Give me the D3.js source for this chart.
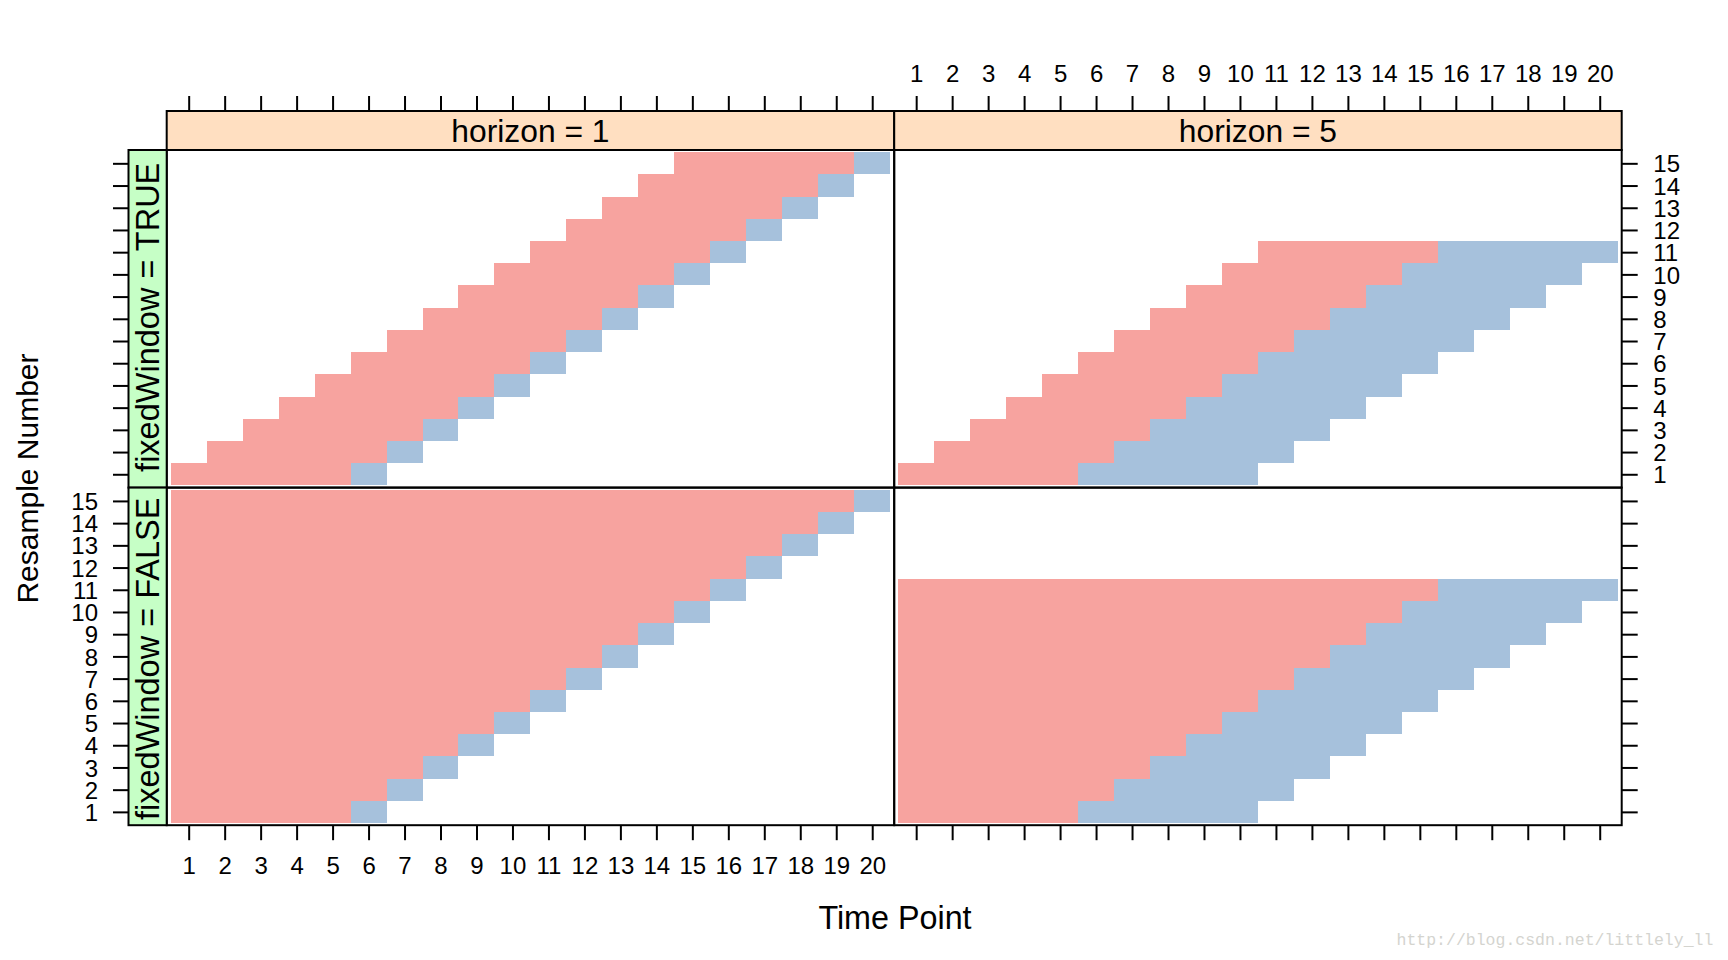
<!DOCTYPE html>
<html>
<head>
<meta charset="utf-8">
<script src="https://cdn.jsdelivr.net/npm/d3@7"></script>
<style>
  html, body { margin: 0; padding: 0; background: #fff; }
  svg { display: block; font-family: "Liberation Sans", Arial, Helvetica, sans-serif; }
</style>
</head>
<body>
<svg id="chart" width="1728" height="960"></svg>
<script>
// ---------------- data ----------------
const timePoints = [1,2,3,4,5,6,7,8,9,10,11,12,13,14,15,16,17,18,19,20];
const resampleTicks = [1,2,3,4,5,6,7,8,9,10,11,12,13,14,15];
const horizonLevels = ["horizon = 1", "horizon = 5"];
const windowLevels = ["fixedWindow = TRUE", "fixedWindow = FALSE"];

// training window start per resample
const fixedTrainStart   = [1,2,3,4,5,6,7,8,9,10,11,12,13,14,15];
const growingTrainStart = [1,1,1,1,1,1,1,1,1,1,1,1,1,1,1];
// training window end / test end per resample, by horizon
const h1TrainEnd = [5,6,7,8,9,10,11,12,13,14,15,16,17,18,19];
const h1TestEnd  = [6,7,8,9,10,11,12,13,14,15,16,17,18,19,20];
const h5TrainEnd = [5,6,7,8,9,10,11,12,13,14,15];
const h5TestEnd  = [10,11,12,13,14,15,16,17,18,19,20];

const trainColor = "#F7A39F";
const testColor  = "#A6C1DC";

// ---------------- layout ----------------
const svg = d3.select("#chart");
const X0 = 166.7, PW = 727.5;        // panel left, panel width
const Y0 = 150, PH = 337.6;          // panel top, panel height
const stripTop = 111, stripLeft = 128.5;
const tickFont = 24;

const colX = c => X0 + c * PW;
const rowY = r => Y0 + r * PH;

function xScale(c) {
  return d3.scaleLinear().domain([0.389, 20.611]).range([colX(c), colX(c) + PW]);
}
function yScale(r) {
  return d3.scaleLinear().domain([0.4, 15.6]).range([rowY(r) + PH, rowY(r)]);
}

// ---------------- cells ----------------
const horizonData = [
  {trainEnd: h1TrainEnd, testEnd: h1TestEnd},
  {trainEnd: h5TrainEnd, testEnd: h5TestEnd}
];
const startData = [fixedTrainStart, growingTrainStart];

for (let r = 0; r < 2; r++) {
  for (let c = 0; c < 2; c++) {
    const x = xScale(c), y = yScale(r);
    const hd = horizonData[c];
    const runs = [];
    hd.trainEnd.forEach((te, i) => {
      const res = resampleTicks[i];
      runs.push({res, s: startData[r][i], e: te, col: trainColor});
      runs.push({res, s: te + 1, e: hd.testEnd[i], col: testColor});
    });
    svg.append("g").selectAll("rect").data(runs).join("rect")
      .attr("x", d => x(d.s - 0.5))
      .attr("width", d => x(d.e + 0.5) - x(d.s - 0.5))
      .attr("y", d => y(d.res + 0.5))
      .attr("height", d => y(d.res - 0.5) - y(d.res + 0.5))
      .attr("fill", d => d.col)
      .attr("shape-rendering", "crispEdges");
  }
}

// ---------------- panel borders ----------------
for (let r = 0; r < 2; r++) {
  for (let c = 0; c < 2; c++) {
    svg.append("rect").attr("x", colX(c)).attr("y", rowY(r))
      .attr("width", PW).attr("height", PH)
      .attr("fill", "none").attr("stroke", "#000").attr("stroke-width", 2);
  }
}

// ---------------- strips ----------------
horizonLevels.forEach((lab, c) => {
  svg.append("rect").attr("x", colX(c)).attr("y", stripTop)
    .attr("width", PW).attr("height", Y0 - stripTop)
    .attr("fill", "#FFDFC1").attr("stroke", "#000").attr("stroke-width", 2);
  svg.append("text").attr("x", colX(c) + PW / 2).attr("y", 141.8)
    .attr("text-anchor", "middle").attr("font-size", 31.8).attr("fill", "#000")
    .text(lab);
});
windowLevels.forEach((lab, r) => {
  svg.append("rect").attr("x", stripLeft).attr("y", rowY(r))
    .attr("width", X0 - stripLeft).attr("height", PH)
    .attr("fill", "#C6FFC6").attr("stroke", "#000").attr("stroke-width", 2);
  const cx = 159, cy = rowY(r) + PH / 2 + (r === 1 ? 2.5 : -1.5);
  svg.append("text").attr("transform", `translate(${cx},${cy}) rotate(-90)`)
    .attr("text-anchor", "middle").attr("font-size", 32.5).attr("fill", "#000")
    .text(lab);
});

// ---------------- axes ----------------
function styleAxis(g) {
  g.select(".domain").remove();
  g.selectAll(".tick line").attr("stroke", "#000").attr("stroke-width", 2);
  g.selectAll(".tick text").attr("font-size", tickFont).attr("fill", "#000")
    .attr("font-family", '"Liberation Sans", Arial, Helvetica, sans-serif');
}

for (let c = 0; c < 2; c++) {
  // top axis (labels on right column)
  const gt = svg.append("g").attr("transform", `translate(0,${stripTop})`)
    .call(d3.axisTop(xScale(c)).tickValues(timePoints).tickSize(15).tickSizeOuter(0)
      .tickFormat(c === 1 ? d3.format("d") : () => ""));
  styleAxis(gt);
  gt.selectAll(".tick text").attr("y", -28.7).attr("dy", 0);

  // bottom axis (labels on left column)
  const gb = svg.append("g").attr("transform", `translate(0,${rowY(2)})`)
    .call(d3.axisBottom(xScale(c)).tickValues(timePoints).tickSize(15).tickSizeOuter(0)
      .tickFormat(c === 0 ? d3.format("d") : () => ""));
  styleAxis(gb);
  gb.selectAll(".tick text").attr("y", 48.8).attr("dy", 0);
}

for (let r = 0; r < 2; r++) {
  // left axis (labels on bottom row)
  const gl = svg.append("g").attr("transform", `translate(${stripLeft},0)`)
    .call(d3.axisLeft(yScale(r)).tickValues(resampleTicks).tickSize(15.5).tickPadding(15).tickSizeOuter(0)
      .tickFormat(r === 1 ? d3.format("d") : () => ""));
  styleAxis(gl);
  gl.selectAll(".tick text").attr("dy", "0.36em");

  // right axis (labels on top row)
  const gr = svg.append("g").attr("transform", `translate(${colX(2)},0)`)
    .call(d3.axisRight(yScale(r)).tickValues(resampleTicks).tickSize(16).tickPadding(15.6).tickSizeOuter(0)
      .tickFormat(r === 0 ? d3.format("d") : () => ""));
  styleAxis(gr);
  gr.selectAll(".tick text").attr("dy", "0.36em");
}

// ---------------- axis titles ----------------
svg.append("text").attr("x", 895).attr("y", 928.5)
  .attr("text-anchor", "middle").attr("font-size", 32.3).attr("fill", "#000")
  .text("Time Point");
svg.append("text").attr("transform", "translate(37.5,478.5) rotate(-90)")
  .attr("text-anchor", "middle").attr("font-size", 30).attr("fill", "#000")
  .text("Resample Number");

// ---------------- watermark ----------------
svg.append("text").attr("x", 1396.5).attr("y", 944.5)
  .attr("font-family", '"Liberation Mono", "DejaVu Sans Mono", monospace')
  .attr("font-size", 16.5).attr("fill", "#D4D4CF")
  .text("http://blog.csdn.net/littlely_ll");
</script>
</body>
</html>
